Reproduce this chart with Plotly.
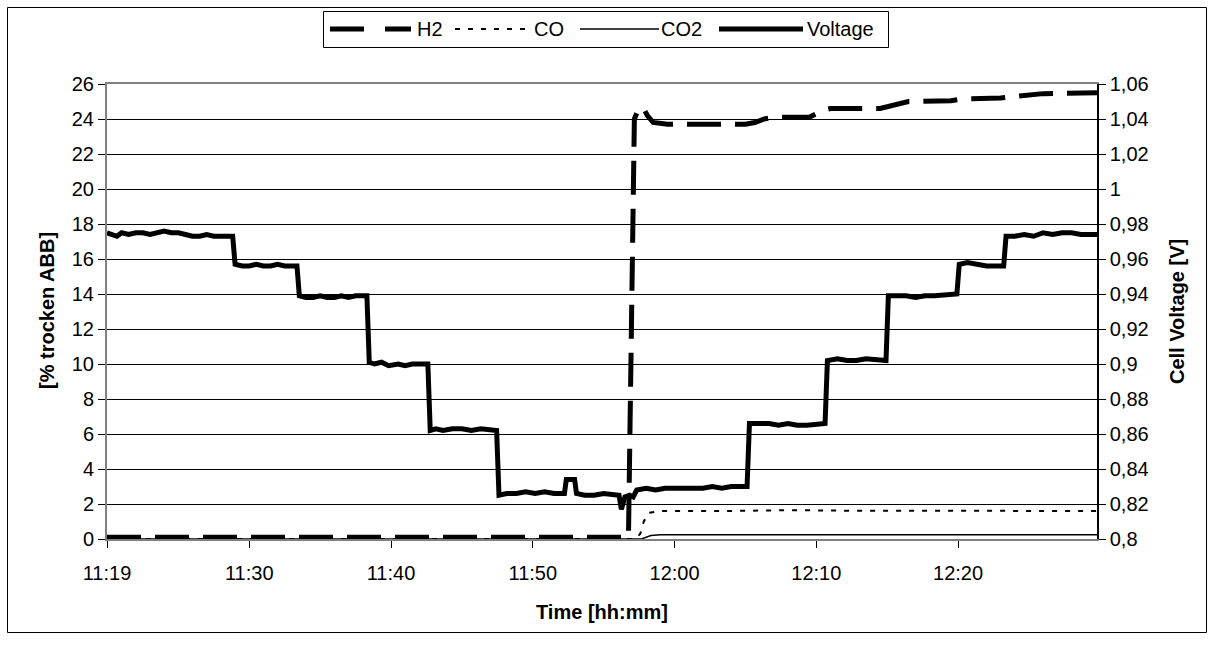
import plotly.graph_objects as go

DAY = "2000-01-01 "

# Cell voltage [V] (secondary axis)
volt_time = [
    "11:19:58", "11:20:20", "11:20:40", "11:21:00", "11:21:30", "11:22:00", "11:22:30",
    "11:23:00", "11:23:30", "11:24:00", "11:24:30", "11:25:00", "11:25:30", "11:26:00",
    "11:26:30", "11:27:00", "11:27:30", "11:28:00", "11:28:50", "11:29:00", "11:29:30",
    "11:30:00", "11:30:30", "11:31:00", "11:31:30", "11:32:00", "11:32:30", "11:33:22",
    "11:33:32", "11:34:00", "11:34:30", "11:35:00", "11:35:30", "11:36:00", "11:36:30",
    "11:37:00", "11:37:30", "11:38:18", "11:38:28", "11:38:50", "11:39:20", "11:39:50",
    "11:40:30", "11:41:00", "11:41:30", "11:42:36", "11:42:46", "11:43:10", "11:43:40",
    "11:44:20", "11:45:00", "11:45:40", "11:46:20", "11:47:27", "11:47:37", "11:48:10",
    "11:48:50", "11:49:30", "11:50:10", "11:50:50", "11:51:30", "11:52:14", "11:52:22",
    "11:52:57", "11:53:05", "11:53:40", "11:54:20", "11:55:00", "11:55:40", "11:56:05",
    "11:56:15", "11:56:30", "11:56:50", "11:57:05", "11:57:20", "11:58:00", "11:58:40",
    "11:59:20", "12:00:00", "12:00:40", "12:01:20", "12:02:00", "12:02:40", "12:03:20",
    "12:04:00", "12:05:07", "12:05:17", "12:06:00", "12:06:40", "12:07:20", "12:08:00",
    "12:08:40", "12:09:20", "12:10:37", "12:10:47", "12:11:30", "12:12:10", "12:12:50",
    "12:13:30", "12:14:55", "12:15:05", "12:15:40", "12:16:20", "12:17:00", "12:17:40",
    "12:18:20", "12:19:55", "12:20:05", "12:20:40", "12:21:20", "12:22:00", "12:23:13",
    "12:23:23", "12:24:00", "12:24:40", "12:25:20", "12:26:00", "12:26:40", "12:27:20",
    "12:28:00", "12:28:40", "12:29:48",
]
volt_value = [
    0.975, 0.974, 0.973, 0.975, 0.974, 0.975, 0.975,
    0.974, 0.975, 0.976, 0.975, 0.975, 0.974, 0.973,
    0.973, 0.974, 0.973, 0.973, 0.973, 0.957, 0.956,
    0.956, 0.957, 0.956, 0.956, 0.957, 0.956, 0.956,
    0.939, 0.938, 0.938, 0.939, 0.938, 0.938, 0.939,
    0.938, 0.939, 0.939, 0.901, 0.900, 0.901, 0.899,
    0.900, 0.899, 0.900, 0.900, 0.862, 0.863, 0.862,
    0.863, 0.863, 0.862, 0.863, 0.862, 0.825, 0.826,
    0.826, 0.827, 0.826, 0.827, 0.826, 0.826, 0.834,
    0.834, 0.826, 0.825, 0.825, 0.826, 0.825, 0.825,
    0.817, 0.824, 0.825, 0.824, 0.828, 0.829, 0.828,
    0.829, 0.829, 0.829, 0.829, 0.829, 0.830, 0.829,
    0.830, 0.830, 0.866, 0.866, 0.866, 0.865, 0.866,
    0.865, 0.865, 0.866, 0.902, 0.903, 0.902, 0.902,
    0.903, 0.902, 0.939, 0.939, 0.939, 0.938, 0.939,
    0.939, 0.940, 0.957, 0.958, 0.957, 0.956, 0.956,
    0.973, 0.973, 0.974, 0.973, 0.975, 0.974, 0.975,
    0.975, 0.974, 0.974,
]

# Gas composition [% trocken ABB] (primary axis)
h2_time = [
    "11:19:58", "11:56:45", "11:57:10", "11:57:25", "11:57:45", "11:58:05", "11:58:30",
    "11:59:30", "12:02:00", "12:05:00", "12:05:40", "12:06:20", "12:07:00", "12:09:30",
    "12:10:30", "12:11:00", "12:14:30", "12:15:30", "12:16:30", "12:19:30", "12:20:30",
    "12:23:00", "12:24:30", "12:26:00", "12:29:48",
]
h2_value = [
    0.1, 0.1, 24.0, 24.5, 24.7, 24.2, 23.8,
    23.7, 23.7, 23.7, 23.8, 24.0, 24.1, 24.1,
    24.5, 24.6, 24.6, 24.8, 25.0, 25.05, 25.15,
    25.2, 25.35, 25.45, 25.5,
]

co_time = ["11:19:58", "11:57:15", "11:57:35", "11:57:50", "11:58:10", "11:59:00",
           "12:04:00", "12:08:00", "12:12:00", "12:20:00", "12:26:00", "12:29:48"]
co_value = [0.0, 0.0, 0.3, 1.0, 1.5, 1.6, 1.6, 1.65, 1.62, 1.6, 1.58, 1.6]

co2_time = ["11:19:58", "11:57:40", "11:58:20", "11:59:00", "12:29:48"]
co2_value = [0.0, 0.0, 0.2, 0.25, 0.25]

# Axis ticks
x_ticks = ["11:19:58", "11:30:00", "11:40:00", "11:50:00", "12:00:00", "12:10:00", "12:20:00"]
x_end = "12:29:48"
left_ticks = [0, 2, 4, 6, 8, 10, 12, 14, 16, 18, 20, 22, 24, 26]
right_ticks = [0.8, 0.82, 0.84, 0.86, 0.88, 0.9, 0.92, 0.94, 0.96, 0.98, 1.0, 1.02, 1.04, 1.06]

FONT = "Liberation Sans, Arial, sans-serif"
W, H = 1214, 650
L, R, T, B = 107, 1097, 84, 539


def px(x):
    return (x - L) / (R - L)


def py(y):
    return (B - y) / (B - T)


def dt(ts):
    return [DAY + t for t in ts]


fig = go.Figure()
fig.add_trace(go.Scatter(x=dt(h2_time), y=h2_value, name="H2", mode="lines",
                         line=dict(color="black", width=5, dash="34px,14px")))
fig.add_trace(go.Scatter(x=dt(co_time), y=co_value, name="CO", mode="lines",
                         line=dict(color="black", width=2, dash="5px,8px")))
fig.add_trace(go.Scatter(x=dt(co2_time), y=co2_value, name="CO2", mode="lines",
                         line=dict(color="black", width=1.5)))
fig.add_trace(go.Scatter(x=dt(volt_time), y=volt_value, name="Voltage", mode="lines",
                         line=dict(color="black", width=5), yaxis="y2"))

tick_font = dict(family=FONT, size=20, color="black")

fig.update_layout(
    width=W, height=H,
    margin=dict(l=L, r=W - R, t=T, b=H - B, pad=0),
    paper_bgcolor="white", plot_bgcolor="white",
    showlegend=False,
    font=dict(family=FONT, color="black"),
    xaxis=dict(
        type="date",
        range=[DAY + x_ticks[0], DAY + x_end],
        tickvals=dt(x_ticks),
        ticktext=[t[:5] for t in x_ticks],
        ticks="outside", ticklen=7, tickcolor="black", tickwidth=1,
        ticklabelstandoff=8,
        showline=True, linecolor="#808080", linewidth=2, mirror=True,
        showgrid=False, zeroline=False,
        tickfont=tick_font,
    ),
    yaxis=dict(
        range=[0, 26],
        tickvals=left_ticks,
        ticktext=[str(v) for v in left_ticks],
        ticks="outside", ticklen=7, tickcolor="black", tickwidth=1,
        showline=True, linecolor="#808080", linewidth=2,
        showgrid=True, gridcolor="black", gridwidth=1,
        zeroline=False,
        tickfont=tick_font,
    ),
    yaxis2=dict(
        range=[0.8, 1.06],
        overlaying="y", side="right",
        tickvals=right_ticks,
        ticktext=[f"{v:g}".replace(".", ",") for v in right_ticks],
        ticks="outside", ticklen=7, tickcolor="black", tickwidth=1,
        showline=True, linecolor="black", linewidth=1.5,
        showgrid=False, zeroline=False,
        tickfont=tick_font,
    ),
)

annotations = [
    dict(text="<b>Time [hh:mm]</b>", x=px(602), y=py(612), xref="paper", yref="paper",
         showarrow=False, xanchor="center", yanchor="middle",
         font=dict(family=FONT, size=20, color="black")),
    dict(text="<b>[% trocken ABB]</b>", x=px(47), y=py(311), xref="paper", yref="paper",
         showarrow=False, xanchor="center", yanchor="middle", textangle=-90,
         font=dict(family=FONT, size=20, color="black")),
    dict(text="<b>Cell Voltage [V]</b>", x=px(1177), y=py(312), xref="paper", yref="paper",
         showarrow=False, xanchor="center", yanchor="middle", textangle=-90,
         font=dict(family=FONT, size=20, color="black")),
]

shapes = [
    # chart border
    dict(type="rect", xref="paper", yref="paper", x0=px(7.5), x1=px(1206.5),
         y0=py(632.5), y1=py(7.5), line=dict(color="black", width=1)),
    # legend box
    dict(type="rect", xref="paper", yref="paper", x0=px(323.5), x1=px(888.5),
         y0=py(47.5), y1=py(11.5), line=dict(color="black", width=1),
         fillcolor="white"),
]

legend_items = [
    ("H2", 330, 411, dict(color="black", width=5, dash="34px,21px"), 415),
    ("CO", 455, 527, dict(color="black", width=2, dash="5px,8px"), 532),
    ("CO2", 580, 659, dict(color="black", width=1.5), 659),
    ("Voltage", 719, 803, dict(color="black", width=5), 805),
]
for label, xa, xb, ln, xt in legend_items:
    shapes.append(dict(type="line", xref="paper", yref="paper",
                       x0=px(xa), x1=px(xb), y0=py(29), y1=py(29), line=ln))
    annotations.append(dict(text=label, x=px(xt), y=py(29), xref="paper", yref="paper",
                            showarrow=False, xanchor="left", yanchor="middle",
                            font=dict(family=FONT, size=20, color="black")))

fig.update_layout(shapes=shapes, annotations=annotations)

fig.write_html("out.html")
